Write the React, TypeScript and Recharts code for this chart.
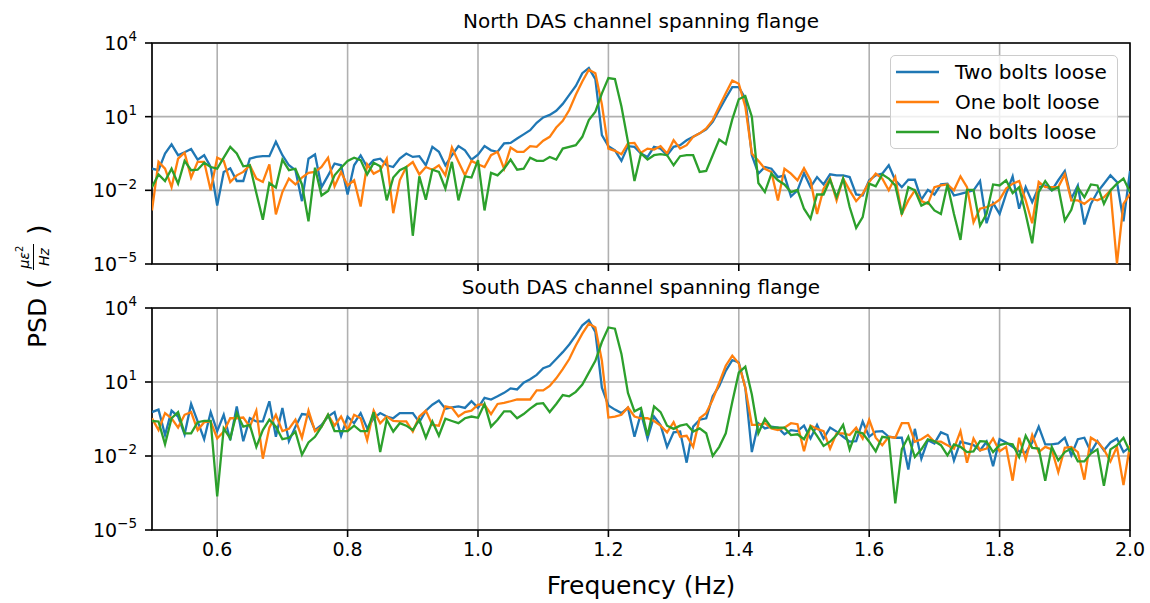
import React from 'react';
import { LineChart, Line, XAxis, YAxis, CartesianGrid, ReferenceArea, Legend } from 'recharts';

// Frequency grid (Hz), 0.01 Hz resolution from 0.50 to 2.00
const frequencies: number[] = Array.from({ length: 151 }, (_, i) => Math.round(50 + i) / 100);

// log10 of PSD values (µε²/Hz)
const northTwoBoltsLog: number[] = [
  -1.12, -1.18, -0.50, -0.13, -0.57, -0.45, -0.32, -0.75, -0.57, -1.05,
  -2.62, -1.25, -1.10, -1.62, -1.62, -0.71, -0.64, -0.61, -0.61, -0.02,
  -0.57, -0.98, -1.18, -2.44, -0.71, -0.54, -1.87, -1.40, -0.91, -0.98,
  -2.17, -0.98, -0.58, -1.05, -0.77, -0.71, -0.98, -1.05, -0.71, -0.50,
  -0.64, -0.61, -0.98, -0.23, -0.43, -0.98, -0.57, -0.20, -0.37, -0.75,
  -0.55,
  -0.20, -0.37, -0.43, -0.09, -0.07, 0.11, 0.28, 0.45, 0.75, 0.97,
  1.07, 1.24, 1.52, 1.89, 2.25, 2.77, 2.98, 2.53, 0.25, -0.20,
  -0.37, -0.80, -0.20, -0.23, -0.50, -0.64, -0.23, -0.30, -0.57, -0.23,
  -0.16, 0.04, 0.18, 0.32, 0.48, 0.79, 1.27, 1.75, 2.20, 2.20,
  1.75, -0.57, -1.32, -1.05, -1.12, -1.46, -1.39, -2.25, -2.00, -1.30,
  -1.87, -1.46, -1.76, -1.35, -1.39, -1.39, -1.46, -2.17, -2.21, -1.59,
  -1.39, -1.32, -0.98, -1.59, -1.87, -1.57, -1.57, -2.38, -1.98, -2.17,
  -1.76, -1.73, -2.21, -2.14, -2.07, -2.00, -1.62, -3.34, -2.52, -2.96,
  -2.14, -1.43, -2.75, -1.87, -2.48, -1.87, -1.80, -2.00, -1.59, -1.21,
  -2.34, -1.80, -3.39, -2.55, -2.07, -1.73, -1.39, -1.66, -3.26, -1.21,
];

const northOneBoltLog: number[] = [
  -2.82, -0.84, -1.12, -1.87, -0.71, -0.47, -1.48, -0.84, -0.84, -2.00,
  -0.67, -0.80, -1.66, -1.39, -1.25, -0.98, -1.52, -1.66, -0.94, -2.98,
  -2.07, -1.52, -1.76, -1.48, -1.29, -1.25, -1.05, -0.67, -1.84, -1.25,
  -1.80, -1.59, -2.66, -0.94, -1.32, -1.18, -0.71, -2.93, -1.59, -1.05,
  -0.85, -1.35, -1.05, -1.16, -0.98, -1.39, -0.26, -0.84, -1.39, -0.80,
  -0.94,
  -1.05, -0.57, -0.43, -1.12, -0.26, -0.43, -0.43, -0.20, -0.23, 0.02,
  0.18, 0.56, 0.83, 1.27, 1.89, 2.43, 2.91, 2.77, 1.50, -0.30,
  -0.39, -0.53, -0.09, -0.07, -0.47, -0.30, -0.34, -0.20, -0.50, 0.04,
  -0.30, -0.16, 0.18, 0.32, 0.52, 0.86, 1.41, 1.95, 2.47, 2.34,
  1.41, -0.50, -0.80, -1.12, -1.25, -2.41, -1.12, -1.32, -1.59, -1.10,
  -1.59, -2.96, -1.93, -1.52, -2.41, -1.52, -2.00, -2.44, -2.14, -1.66,
  -1.32, -1.52, -2.00, -1.46, -2.96, -2.41, -2.00, -2.44, -2.55, -1.87,
  -1.80, -1.76, -2.00, -1.43, -1.87, -3.30, -2.75, -2.68, -2.57, -2.38,
  -1.93, -1.73, -1.62, -2.41, -3.34, -1.66, -1.87, -1.87, -1.87, -1.35,
  -2.41, -2.41, -2.55, -2.34, -2.41, -2.28, -2.00, -4.98, -2.55, -2.14,
];

const northNoBoltsLog: number[] = [
  -1.87, -1.35, -1.62, -1.12, -1.73, -0.80, -1.18, -1.16, -0.88, -1.05,
  -1.12, -0.67, -0.23, -0.50, -1.02, -0.98, -2.11, -3.20, -1.70, -1.89,
  -0.75, -1.18, -1.12, -1.76, -3.26, -1.08, -2.21, -2.03, -1.39, -1.08,
  -0.80, -0.67, -0.77, -1.35, -0.88, -1.02, -2.41, -1.48, -1.18, -1.05,
  -3.85, -1.43, -2.38, -1.16, -1.25, -1.93, -0.84, -2.41, -1.43, -1.48,
  -0.77,
  -2.82, -1.29, -1.39, -1.12, -0.75, -1.16, -1.12, -0.67, -0.80, -0.80,
  -0.64, -0.75, -0.30, -0.23, -0.16, 0.18, 0.86, 1.20, 1.95, 2.57,
  2.53, 1.41, -0.02, -1.62, -0.50, -0.75, -0.57, -0.53, -0.57, -0.98,
  -0.61, -0.57, -0.57, -1.25, -1.21, -0.57, 0.07, -0.12, 0.89, 1.71,
  1.84, 1.00, -1.70, -2.07, -1.32, -1.59, -1.76, -2.07, -1.98, -2.75,
  -3.16, -2.17, -2.17, -1.57, -2.28, -1.52, -2.68, -3.53, -3.09, -1.73,
  -1.84, -1.35, -1.52, -1.80, -2.98, -1.87, -2.00, -2.62, -2.48, -2.82,
  -2.96, -1.76, -2.96, -4.02, -1.98, -1.98, -3.44, -2.96, -1.76, -1.80,
  -1.59, -2.11, -1.87, -2.96, -4.16, -2.07, -1.62, -2.00, -1.87, -3.23,
  -2.79, -1.89, -2.28, -1.76, -1.80, -2.55, -2.00, -1.73, -1.52, -2.07,
];

const southTwoBoltsLog: number[] = [
  -0.22, -0.12, -1.15, -0.16, -0.40, -1.12, 0.11, -0.60, -1.32, -0.22,
  -0.99, -0.33, -1.36, 0.01, -1.40, -0.47, -0.60, -0.60, 0.22, -1.22,
  -0.05, -1.40, -0.81, -0.30, -0.33, -0.95, -0.74, -0.40, -0.22, -1.18,
  -0.40, -0.67, -0.26, -0.88, -0.47, -0.26, -0.40, -0.47, -0.26, -0.26,
  -0.26, -0.63, -0.16, 0.08, 0.25, -0.08, -0.03, 0.01, -0.05, 0.22,
  -0.05,
  0.36, 0.29, 0.42, 0.56, 0.74, 0.70, 0.97, 1.11, 1.29, 1.56,
  1.66, 1.93, 2.21, 2.52, 2.89, 3.30, 3.51, 3.03, 0.77, 0.05,
  -0.12, -0.26, -0.05, -1.22, -0.26, -1.29, -0.40, -0.74, -1.63, -1.04,
  -1.01, -2.27, -0.81, -0.53, -0.47, 0.42, 0.84, 1.45, 1.89, 1.79,
  0.77, -1.84, -0.67, -0.88, -0.81, -0.85, -1.12, -0.95, -0.99, -0.77,
  -1.29, -0.74, -1.29, -0.85, -1.01, -1.22, -1.42, -1.40, -0.60, -1.22,
  -1.01, -0.99, -1.22, -1.26, -1.26, -2.55, -0.90, -2.11, -1.36, -1.49,
  -1.04, -1.15, -2.18, -1.42, -1.49, -1.56, -1.77, -1.42, -2.41, -1.32,
  -1.45, -1.63, -1.81, -1.86, -1.45, -0.81, -1.53, -1.53, -1.49, -1.26,
  -1.97, -1.32, -1.26, -1.84, -1.40, -1.77, -1.45, -1.29, -1.84, -1.63,
];

const southOneBoltLog: number[] = [
  -0.47, -0.95, -0.26, -0.47, -0.85, -0.33, -0.22, -0.95, -0.63, -0.60,
  -1.29, -1.01, -0.47, -0.47, -0.44, -0.81, -0.16, -2.11, -0.85, -0.33,
  -0.99, -0.90, -0.53, -1.26, -0.16, -0.99, -0.81, -0.33, -0.77, -0.40,
  -0.95, -0.33, -0.47, -1.36, -0.16, -0.67, -0.40, -0.58, -0.60, -0.60,
  -1.01, -0.40, -0.16, -0.74, -0.77, 0.01, -0.05, -0.40, -0.22, -0.16,
  0.08,
  0.08, -0.30, 0.11, 0.15, 0.22, 0.29, 0.29, 0.29, 0.66, 0.66,
  0.84, 1.15, 1.52, 1.93, 2.48, 2.96, 3.37, 3.21, 1.86, -0.44,
  -0.40, -0.33, -0.03, -0.40, -0.47, -0.47, -0.58, -0.77, -1.04, -0.63,
  -1.22, -1.18, -1.63, -0.47, -0.26, 0.29, 0.97, 1.66, 2.07, 1.75,
  0.77, -0.74, -0.74, -0.67, -0.88, -0.95, -0.85, -0.67, -0.71, -1.81,
  -0.77, -0.90, -0.99, -1.70, -1.08, -1.08, -1.15, -0.85, -1.29, -0.53,
  -1.26, -1.56, -1.22, -1.26, -0.67, -0.67, -1.42, -1.32, -1.15, -1.42,
  -1.42, -1.56, -1.70, -0.99, -2.27, -1.29, -1.77, -1.70, -1.29, -1.81,
  -1.63, -3.00, -1.26, -2.14, -1.15, -1.84, -1.63, -1.73, -2.66, -1.67,
  -1.63, -1.84, -2.96, -1.26, -1.42, -1.73, -2.22, -1.63, -3.18, -1.56,
];

const southNoBoltsLog: number[] = [
  -0.58, -0.60, -1.53, -0.47, -0.22, -1.08, -1.08, -0.63, -0.58, -0.58,
  -3.64, -0.88, -1.29, -0.26, -0.81, -0.74, -1.63, -0.95, -0.53, -0.81,
  -1.32, -1.26, -1.01, -1.95, -1.45, -1.22, -0.81, -0.33, -0.99, -0.99,
  -0.99, -0.77, -0.99, -0.99, -0.22, -1.84, -0.53, -1.01, -0.67, -0.77,
  -0.95, -0.53, -1.26, -0.60, -1.18, -0.49, -0.58, -0.67, -0.47, -0.40,
  -0.45,
  0.11, -0.81, -0.53, -0.19, -0.19, -0.47, -0.30, -0.08, 0.11, 0.14,
  -0.22, 0.11, 0.47, 0.42, 0.60, 0.90, 1.38, 1.86, 2.62, 3.21,
  3.16, 2.14, 0.56, -0.19, -0.05, -1.18, 0.01, -0.22, -0.77, -0.90,
  -0.77, -0.71, -1.01, -0.88, -1.08, -2.00, -1.63, -1.08, 0.19, 1.38,
  1.62, 0.49, -1.08, -0.49, -0.85, -0.85, -0.85, -1.15, -1.12, -1.32,
  -0.81, -1.18, -1.59, -1.42, -1.15, -0.74, -1.73, -1.01, -1.08, -1.42,
  -1.81, -1.22, -1.26, -3.92, -1.73, -1.22, -2.04, -1.73, -1.32, -1.40,
  -1.56, -1.97, -1.53, -1.63, -1.84, -1.81, -1.40, -1.42, -1.84, -1.56,
  -1.49, -1.53, -2.04, -1.18, -1.67, -1.70, -3.00, -1.63, -2.18, -1.84,
  -1.70, -2.22, -2.22, -1.90, -1.73, -3.21, -1.73, -1.56, -1.26, -1.84,
];

const seriesNames = ['Two bolts loose', 'One bolt loose', 'No bolts loose'];
const seriesColors = ['#1f77b4', '#ff7f0e', '#2ca02c'];
const xTicks = [0.6, 0.8, 1.0, 1.2, 1.4, 1.6, 1.8, 2.0];
const yTicks = [1e-5, 1e-2, 1e1, 1e4];
const panelTitles = ['North DAS channel spanning flange', 'South DAS channel spanning flange'];

const FONT = '"DejaVu Sans", Verdana, sans-serif';

const buildRows = (a: number[], b: number[], c: number[]) =>
  frequencies.map((f, i) => ({ f, two: Math.pow(10, a[i]), one: Math.pow(10, b[i]), none: Math.pow(10, c[i]) }));

const northRows = buildRows(northTwoBoltsLog, northOneBoltLog, northNoBoltsLog);
const southRows = buildRows(southTwoBoltsLog, southOneBoltLog, southNoBoltsLog);

const LogTick = (props: any) => {
  const { x, y, payload } = props;
  const e = Math.round(Math.log10(payload.value));
  const s = e < 0 ? '\u2212' + Math.abs(e) : String(e);
  return (
    <text x={x} y={y} textAnchor="end" fontFamily={FONT} fontSize={19} fill="#000">
      <tspan dy="0.36em">10</tspan>
      <tspan dy="-0.62em" fontSize={13.5}>{s}</tspan>
    </text>
  );
};

const LegendBox = (props: any) => {
  const raw = props.payload || [];
  const items = [...raw].sort((a: any, b: any) => seriesNames.indexOf(a.value) - seriesNames.indexOf(b.value));
  return (
    <div
      style={{
        background: 'rgba(255,255,255,0.8)',
        border: '1.5px solid #cccccc',
        borderRadius: 5,
        padding: '1px 6px 1px 5px',
        fontFamily: FONT,
        fontSize: 20,
        color: '#000',
        boxSizing: 'border-box',
        width: 228,
      }}
    >
      {items.map((it: any) => (
        <div key={it.value} style={{ display: 'flex', alignItems: 'center', height: 30, whiteSpace: 'nowrap' }}>
          <svg width={43} height={4} style={{ display: 'block' }}>
            <line x1={0} y1={2} x2={43} y2={2} stroke={it.color} strokeWidth={2.5} />
          </svg>
          <span style={{ marginLeft: 16 }}>{it.value}</span>
        </div>
      ))}
    </div>
  );
};

const Panel = ({ rows, showXLabels, withLegend, height, axisHeight }: any) => (
  <LineChart width={1150} height={height} data={rows} margin={{ top: 43, right: 20, bottom: 0, left: 92 }}>
    <CartesianGrid stroke="#b0b0b0" strokeWidth={1.6} />
    <XAxis
      dataKey="f"
      type="number"
      domain={[0.5, 2.0]}
      ticks={xTicks}
      interval={0}
      allowDataOverflow
      height={axisHeight}
      axisLine={false}
      tickSize={7}
      tickMargin={6}
      tickLine={{ stroke: '#000', strokeWidth: 1.6 }}
      tick={{ fontFamily: FONT, fontSize: 19, fill: '#000' }}
      tickFormatter={(v: number) => (showXLabels ? v.toFixed(1) : '')}
    />
    <YAxis
      type="number"
      scale="log"
      domain={[1e-5, 1e4]}
      ticks={yTicks}
      interval={0}
      allowDataOverflow
      width={60}
      axisLine={false}
      tickSize={7}
      tickMargin={8}
      tickLine={{ stroke: '#000', strokeWidth: 1.6 }}
      tick={<LogTick />}
    />
    <Line type="linear" dataKey="two" name={seriesNames[0]} stroke={seriesColors[0]} strokeWidth={2.3} dot={false} activeDot={false} isAnimationActive={false} />
    <Line type="linear" dataKey="one" name={seriesNames[1]} stroke={seriesColors[1]} strokeWidth={2.3} dot={false} activeDot={false} isAnimationActive={false} />
    <Line type="linear" dataKey="none" name={seriesNames[2]} stroke={seriesColors[2]} strokeWidth={2.3} dot={false} activeDot={false} isAnimationActive={false} />
    <ReferenceArea x1={0.5} x2={2.0} y1={1e-5} y2={1e4} fill="none" fillOpacity={0} stroke="#000" strokeWidth={1.6} ifOverflow="visible" />
    {withLegend && (
      <Legend
        layout="vertical"
        align="center"
        verticalAlign="middle"
        content={<LegendBox />}
        wrapperStyle={{ left: 890, top: 55, width: 228, height: 95 }}
      />
    )}
  </LineChart>
);

export default function App() {
  return (
    <div style={{ position: 'absolute', left: 0, top: 0, width: 1150, height: 603, background: '#fff', overflow: 'hidden' }}>
      <div style={{ position: 'absolute', left: 0, top: 0 }}>
        <Panel rows={northRows} showXLabels={false} withLegend height={289} axisHeight={25} />
      </div>
      <div style={{ position: 'absolute', left: 0, top: 265 }}>
        <Panel rows={southRows} showXLabels withLegend={false} height={338} axisHeight={73} />
      </div>
      <svg width={1150} height={603} style={{ position: 'absolute', left: 0, top: 0, pointerEvents: 'none' }}>
        <text x={641} y={28} textAnchor="middle" fontFamily={FONT} fontSize={20} fill="#000">{panelTitles[0]}</text>
        <text x={641} y={294} textAnchor="middle" fontFamily={FONT} fontSize={20} fill="#000">{panelTitles[1]}</text>
        <text x={641} y={594} textAnchor="middle" fontFamily={FONT} fontSize={25} fill="#000">Frequency (Hz)</text>
        <g transform="translate(46, 286) rotate(-90)" fontFamily={FONT} fill="#000">
          <text x={-62} y={0} fontSize={25}>PSD</text>
          <text x={-3} y={1} fontSize={27}>(</text>
          <text x={29} y={-17} fontSize={14} fontStyle="italic" textAnchor="middle">
            με<tspan dy={-6} fontSize={10} fontStyle="normal">2</tspan>
          </text>
          <line x1={16} y1={-12.5} x2={42} y2={-12.5} stroke="#000" strokeWidth={1} />
          <text x={29} y={3} fontSize={14} fontStyle="italic" textAnchor="middle">Hz</text>
          <text x={51} y={1} fontSize={27}>)</text>
        </g>
      </svg>
    </div>
  );
}
